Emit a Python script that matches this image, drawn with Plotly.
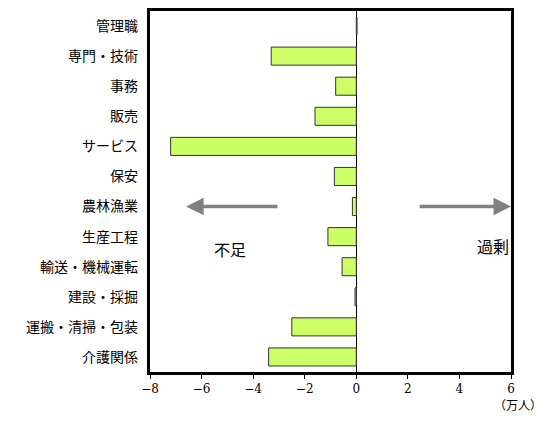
import plotly.graph_objects as go

categories = ["管理職", "専門・技術", "事務", "販売", "サービス", "保安", "農林漁業",
              "生産工程", "輸送・機械運転", "建設・採掘", "運搬・清掃・包装", "介護関係"]
values = [0.03, -3.3, -0.8, -1.6, -7.2, -0.85, -0.15, -1.1, -0.55, -0.05, -2.5, -3.4]

fig = go.Figure(go.Bar(
    y=categories, x=values, orientation="h", width=0.6,
    marker=dict(color="#ccff66", line=dict(color="#333", width=1)),
))

fig.update_layout(
    width=551, height=428, plot_bgcolor="white", paper_bgcolor="white",
    margin=dict(l=142, r=48, t=0, b=64), showlegend=False,
    font=dict(family="Noto Sans CJK JP", size=14, color="black"),
    xaxis=dict(range=[-8, 6], dtick=2, showgrid=False, zeroline=True, zerolinecolor="black",
               zerolinewidth=1, ticks="outside", ticklen=4, tickcolor="black",
               showline=True, linecolor="black", linewidth=3, mirror=True,
               tickfont=dict(family="DejaVu Serif", size=12)),
    yaxis=dict(autorange="reversed", showgrid=False, showline=True, linecolor="black",
               linewidth=3, mirror=True, ticks="", ticksuffix="  "),
)

fig.add_annotation(x=-6.6, y=6, ax=-3.0, ay=6, xref="x", yref="y", axref="x", ayref="y",
                   showarrow=True, arrowhead=2, arrowsize=1, arrowwidth=3.5, arrowcolor="#808080", text="")
fig.add_annotation(x=6.0, y=6, ax=2.4, ay=6, xref="x", yref="y", axref="x", ayref="y",
                   showarrow=True, arrowhead=2, arrowsize=1, arrowwidth=3.5, arrowcolor="#808080", text="")
fig.add_annotation(x=-4.9, y=7.4, xref="x", yref="y", text="不足", showarrow=False, font=dict(size=16))
fig.add_annotation(x=5.3, y=7.3, xref="x", yref="y", text="過剰", showarrow=False, font=dict(size=16))
fig.add_annotation(x=1.02, y=-0.12, xref="paper", yref="paper", text="（万人）", showarrow=False,
                   xanchor="center", font=dict(size=12))

fig.write_html("out.html")
